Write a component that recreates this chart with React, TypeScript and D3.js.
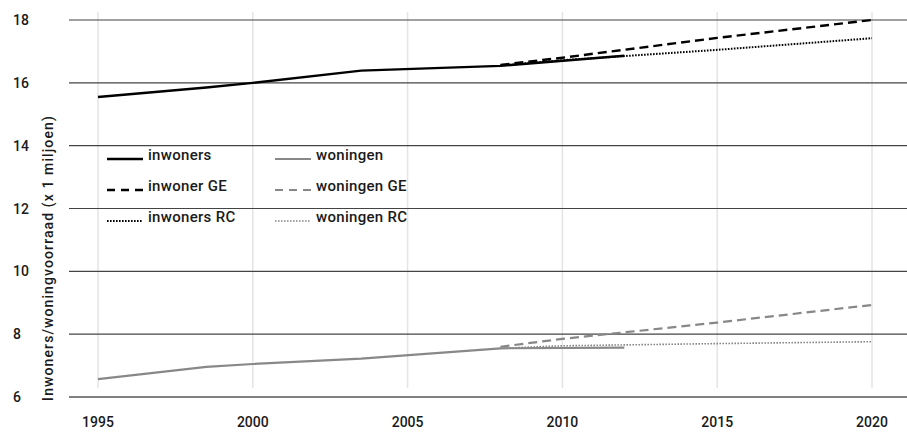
import { line, scaleLinear } from "d3";

const W = 907;
const H = 432;

const X_TICKS = [1995, 2000, 2005, 2010, 2015, 2020];
const Y_TICKS = [6, 8, 10, 12, 14, 16, 18];

// history
const histYears = [1995, 1998.5, 2000, 2003.5, 2008, 2012];
const inwoners = [15.55, 15.85, 16.0, 16.39, 16.54, 16.86];
const woningen = [6.57, 6.96, 7.05, 7.22, 7.55, 7.57];

// projections
const projYears = [2008, 2010, 2015, 2020];
const inwonerGE = [16.57, 16.8, 17.43, 18.0];
const inwonersRC = [16.55, 16.72, 17.05, 17.42];
const woningenGE = [7.6, 7.85, 8.37, 8.93];
const woningenRC = [7.55, 7.63, 7.7, 7.76];

type Pt = [number, number];
const zip = (xs: number[], ys: number[]): Pt[] => xs.map((x, i) => [x, ys[i]]);

const BLACK = "#000";
const GREY = "#888";
const DASH = "9,5";
const DOT = "1.6,1.4";

const series = [
  { name: "inwoners", pts: zip(histYears, inwoners), color: BLACK, width: 2.4, dash: undefined },
  { name: "inwoner GE", pts: zip(projYears, inwonerGE), color: BLACK, width: 2.4, dash: DASH },
  { name: "inwoners RC", pts: zip(projYears, inwonersRC), color: BLACK, width: 2, dash: DOT },
  { name: "woningen", pts: zip(histYears, woningen), color: GREY, width: 2.2, dash: undefined },
  { name: "woningen GE", pts: zip(projYears, woningenGE), color: GREY, width: 2.2, dash: DASH },
  { name: "woningen RC", pts: zip(projYears, woningenRC), color: GREY, width: 1.6, dash: DOT },
];

const FONT = "Roboto, 'DejaVu Sans', sans-serif";

export default function App() {
  const x = scaleLinear().domain([1995, 2020]).range([98, 872]);
  const y = scaleLinear().domain([6, 18]).range([397, 20]);

  const path = line<Pt>()
    .x((d) => x(d[0]))
    .y((d) => y(d[1]));

  return (
    <svg
      width={W}
      height={H}
      style={{ position: "absolute", left: 0, top: 0, background: "#fff" }}
      fontFamily={FONT}
    >
      {/* vertical grid */}
      {X_TICKS.map((t) => (
        <line key={t} x1={x(t)} x2={x(t)} y1={12} y2={388} stroke="#e4e4e4" strokeWidth={1.5} />
      ))}

      {/* horizontal grid */}
      {Y_TICKS.filter((t) => t > 6).map((t) => (
        <line key={t} x1={69} x2={W} y1={y(t)} y2={y(t)} stroke="#444" strokeWidth={1.2} />
      ))}
      <line x1={69} x2={W} y1={y(6)} y2={y(6)} stroke="#808080" strokeWidth={2.2} />

      {/* y tick labels */}
      {Y_TICKS.map((t) => (
        <text key={t} x={13} y={y(t) + 5} fontSize={14} fontWeight={500} fill="#1a1a1a">
          {t}
        </text>
      ))}

      {/* x tick labels */}
      {X_TICKS.map((t) => (
        <text key={t} x={x(t)} y={427} fontSize={14} fontWeight={500} textAnchor="middle" fill="#1a1a1a">
          {t}
        </text>
      ))}

      {/* y title */}
      <text
        transform={`translate(53, 258) rotate(-90)`}
        textAnchor="middle"
        fontSize={14}
        fontWeight={500}
        letterSpacing={1.1}
        fill="#1a1a1a"
      >
        Inwoners/woningvoorraad (x 1 miljoen)
      </text>

      {/* lines */}
      {series.map((s) => (
        <path
          key={s.name}
          d={path(s.pts) ?? undefined}
          fill="none"
          stroke={s.color}
          strokeWidth={s.width}
          strokeDasharray={s.dash}
        />
      ))}

      {/* legend */}
      {series.map((s, i) => {
        const col = Math.floor(i / 3);
        const row = i % 3;
        const lx = col === 0 ? 107 : 275;
        const ly = 159 + row * 31;
        return (
          <g key={s.name}>
            <line
              x1={lx}
              x2={lx + 36}
              y1={ly}
              y2={ly}
              stroke={s.color}
              strokeWidth={s.width}
              strokeDasharray={s.dash ? (s.dash === DASH ? "8,6" : s.dash) : undefined}
            />
            <text x={lx + 41} y={ly + 1} fontSize={15} fontWeight={500} letterSpacing={0.3} fill="#1a1a1a">
              {s.name}
            </text>
          </g>
        );
      })}
    </svg>
  );
}
